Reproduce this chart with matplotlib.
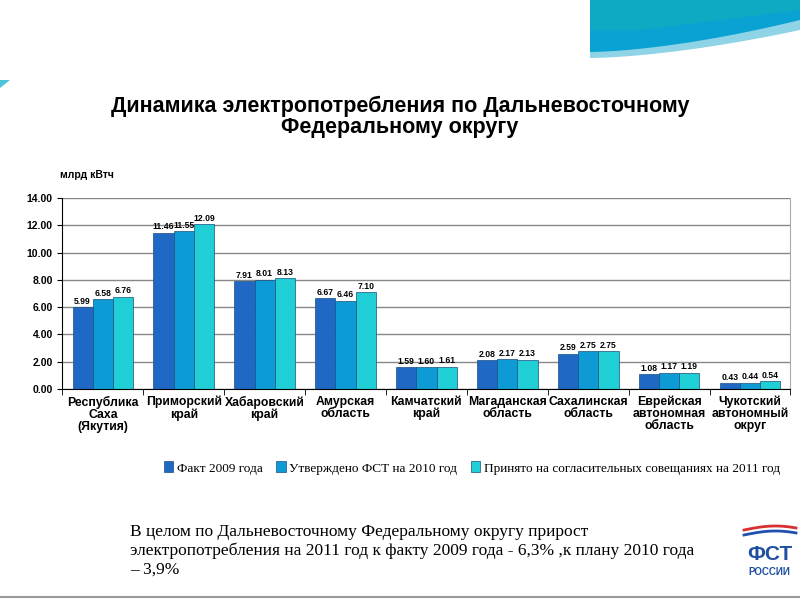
import matplotlib.pyplot as plt
import numpy as np
from matplotlib.patches import Polygon

regions = ["Республика\nСаха\n(Якутия)", "Приморский\nкрай", "Хабаровский\nкрай",
           "Амурская\nобласть", "Камчатский\nкрай", "Магаданская\nобласть",
           "Сахалинская\nобласть", "Еврейская\nавтономная\nобласть",
           "Чукотский\nавтономный\nокруг"]
fact_2009 = [5.99, 11.46, 7.91, 6.67, 1.59, 2.08, 2.59, 1.08, 0.43]
plan_2010 = [6.58, 11.55, 8.01, 6.46, 1.60, 2.17, 2.75, 1.17, 0.44]
agreed_2011 = [6.76, 12.09, 8.13, 7.10, 1.61, 2.13, 2.75, 1.19, 0.54]
series_names = ["Факт 2009 года", "Утверждено ФСТ на 2010 год",
                "Принято на согласительных совещаниях на 2011 год"]
yticks = [0, 2, 4, 6, 8, 10, 12, 14]

colors = ["#1f68c4", "#0e9bd5", "#1fcfd5"]

fig = plt.figure(figsize=(8, 6), dpi=100)
fig.patch.set_facecolor("white")

# decorative swoosh top right
bg = fig.add_axes([0, 0, 1, 1], zorder=-1)
bg.set_xlim(0, 800)
bg.set_ylim(600, 0)
bg.axis("off")
xs = np.linspace(590, 800, 50)
edge1 = 52 - (xs - 590) ** 1.6 / 210 ** 1.6 * 32
edge2 = 58 - (xs - 590) ** 1.6 / 210 ** 1.6 * 28
bg.add_patch(Polygon(np.column_stack([np.r_[xs, xs[::-1]], np.r_[edge2, np.zeros(50)]]),
                     closed=True, color="#8fd3e6", lw=0))
bg.add_patch(Polygon(np.column_stack([np.r_[xs, xs[::-1]], np.r_[edge1, np.zeros(50)]]),
                     closed=True, color="#0aa2d2", lw=0))
bg.add_patch(Polygon([[590, 0], [800, 0], [800, 10], [640, 30], [590, 30]],
                     closed=True, color="#12aeb8", lw=0, alpha=0.6))
bg.add_patch(Polygon([[0, 80], [10, 80], [0, 88]], closed=True, color="#4fc3d8", lw=0))
bg.plot([0, 800], [597, 597], color="#999999", lw=1.5)

fig.text(0.5, 0.805, "Динамика электропотребления по Дальневосточному\nФедеральному округу",
         ha="center", va="center", fontsize=15.5, fontweight="bold",
         family="Liberation Sans", linespacing=1.0)
fig.text(0.075, 0.703, "млрд кВтч", fontsize=7.5, fontweight="bold", family="Liberation Sans")

ax = fig.add_axes([0.078, 0.352, 0.91, 0.318])
x = np.arange(len(regions))
w = 0.25
for i, (vals, c, name) in enumerate(zip([fact_2009, plan_2010, agreed_2011], colors, series_names)):
    bars = ax.bar(x + (i - 1) * w, vals, w, color=c, edgecolor="#1b4f80", linewidth=0.5, label=name)
    for b, v in zip(bars, vals):
        ax.text(b.get_x() + b.get_width() / 2, v + 0.1, f"{v:.2f}", ha="center", va="bottom",
                fontsize=6.2, fontweight="bold", family="Liberation Sans")

ax.set_xlim(-0.5, len(regions) - 0.5)
ax.set_ylim(0, 14)
ax.set_yticks(yticks)
ax.set_yticklabels([f"{t:.2f}" for t in yticks], fontsize=7.5, fontweight="bold", family="Liberation Sans")
ax.set_xticks(x)
ax.set_xticklabels(regions, fontsize=8.8, fontweight="bold", family="Liberation Sans", linespacing=1.0)
ax.set_xticks(np.arange(len(regions) + 1) - 0.5, minor=True)
ax.tick_params(axis="x", which="major", length=0, pad=5)
ax.tick_params(axis="x", which="minor", length=4)
ax.yaxis.grid(True, color="#888888", lw=1)
ax.set_axisbelow(True)
ax.spines["top"].set_visible(False)
ax.spines["right"].set_color("#aaaaaa")

fig.legend(loc="center", bbox_to_anchor=(0.59, 0.22), ncol=3, frameon=False,
           prop={"family": "Liberation Serif", "size": 9.5}, handlelength=0.7,
           handleheight=0.9, columnspacing=1.0, handletextpad=0.3)

fig.text(0.163, 0.082,
         "В целом по Дальневосточному Федеральному округу прирост\n"
         "электропотребления на 2011 год к факту 2009 года - 6,3% ,к плану 2010 года\n"
         "– 3,9%", fontsize=12.5, family="Liberation Serif", va="center", linespacing=1.2)

# logo
fig.text(0.962, 0.06, "ФСТ", ha="center", va="bottom", fontsize=15, fontweight="bold",
         color="#1f4fa0", family="Liberation Sans")
fig.text(0.962, 0.038, "РОССИИ", ha="center", va="bottom", fontsize=7, fontweight="bold",
         color="#1f4fa0", family="Liberation Sans")
lx = np.linspace(0.93, 0.995, 30)
bg.plot(lx * 800, 530 - 4 * np.sin((lx - 0.93) * 40), color="#d83030", lw=2)
bg.plot(lx * 800, 535 - 4 * np.sin((lx - 0.93) * 40), color="#2050b0", lw=2)

fig.savefig("out.png", dpi=100)
